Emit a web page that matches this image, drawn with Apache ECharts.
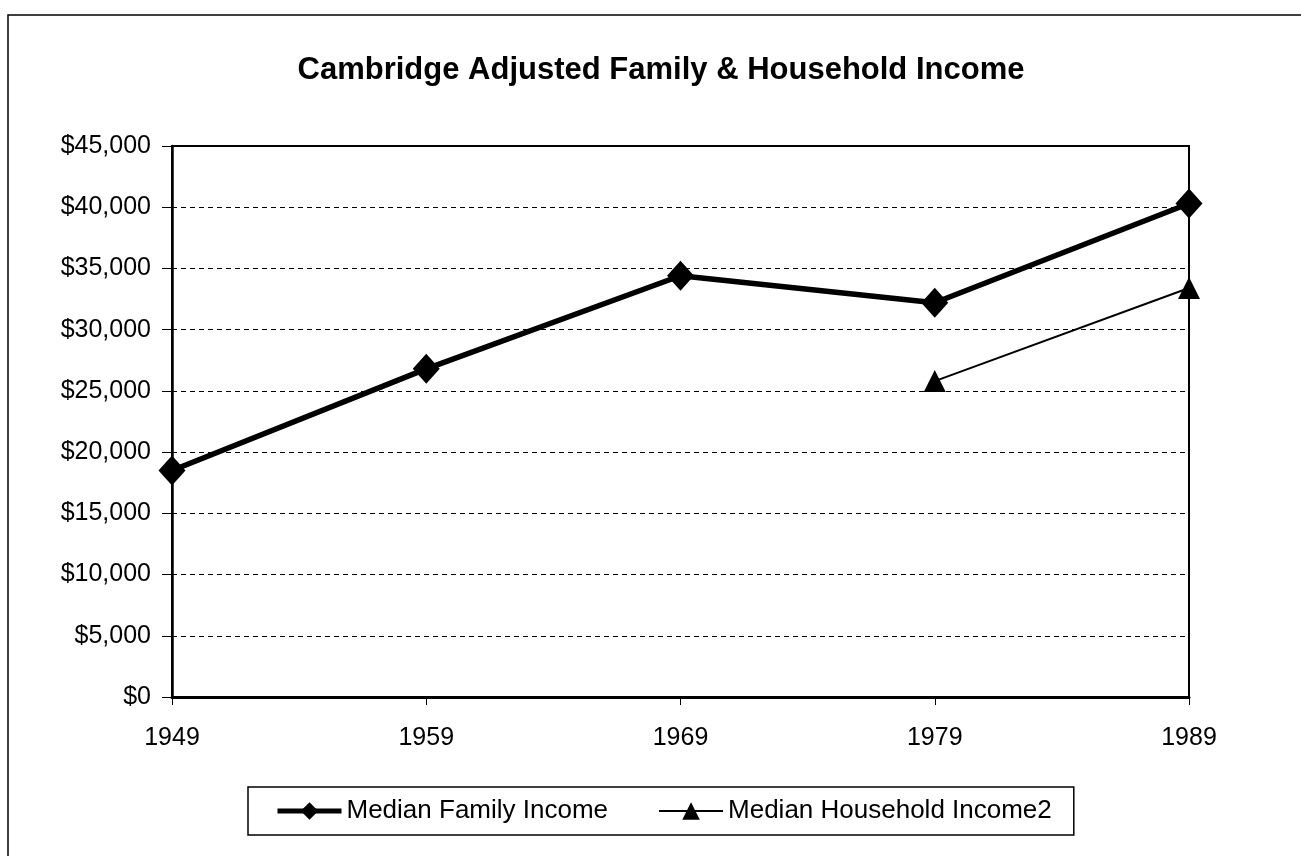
<!DOCTYPE html>
<html>
<head>
<meta charset="utf-8">
<script src="https://cdn.jsdelivr.net/npm/echarts@6/dist/echarts.min.js"></script>
<style>
  html, body { margin: 0; padding: 0; background: #fff; }
  #chart { width: 1301px; height: 856px; }
</style>
</head>
<body>
<div id="chart"></div>
<script>
const years = ['1949', '1959', '1969', '1979', '1989']
const familyIncome = [18500, 26800, 34400, 32200, 40300]
const householdIncome = [null, null, null, 25800, 33400]

const chart = echarts.init(document.getElementById('chart'))

const font = 'Liberation Sans, Arial, sans-serif'

chart.setOption({
  backgroundColor: '#fff',
  animation: false,
  title: {
    text: 'Cambridge Adjusted Family & Household Income',
    left: 656,
    textAlign: 'center',
    top: 50,
    textStyle: { fontFamily: font, fontSize: 31, fontWeight: 'bold', color: '#000' }
  },
  graphic: [
    {
      type: 'rect',
      shape: { x: 8, y: 15, width: 1310, height: 860 },
      style: { fill: 'none', stroke: '#000', lineWidth: 1.5 }
    }
  ],
  legend: {
    top: 787,
    left: 248,
    itemGap: 50,
    itemWidth: 64,
    itemHeight: 22,
    padding: [11, 22, 11, 27],
    borderColor: '#000',
    borderWidth: 1.5,
    textStyle: { fontFamily: font, fontSize: 26, color: '#000' },
    data: [
      { name: 'Median Family Income', lineStyle: { width: 5 } },
      { name: 'Median Household Income2', lineStyle: { width: 2 } }
    ]
  },
  grid: {
    left: 172,
    right: 112,
    top: 146,
    bottom: 159,
    show: true,
    borderColor: '#000',
    borderWidth: 2
  },
  xAxis: {
    type: 'category',
    data: years,
    boundaryGap: false,
    axisLine: { lineStyle: { color: '#000', width: 3 } },
    axisTick: { show: true, length: 8, lineStyle: { color: '#000' } },
    axisLabel: { fontFamily: font, fontSize: 25, color: '#000', margin: 29 },
    splitLine: { show: false }
  },
  yAxis: {
    type: 'value',
    min: 0,
    max: 45000,
    interval: 5000,
    axisLine: { show: true, lineStyle: { color: '#000', width: 2.5 } },
    axisTick: { show: true, length: 10, lineStyle: { color: '#000' } },
    axisLabel: {
      fontFamily: font,
      fontSize: 25,
      color: '#000',
      margin: 21,
      formatter: v => '$' + v.toLocaleString('en-US')
    },
    splitLine: { show: true, lineStyle: { color: '#000', type: [5, 4], width: 1 } }
  },
  series: [
    {
      name: 'Median Family Income',
      type: 'line',
      data: familyIncome,
      symbol: 'diamond',
      symbolSize: [27, 30],
      lineStyle: { color: '#000', width: 5.5 },
      itemStyle: { color: '#000' }
    },
    {
      name: 'Median Household Income2',
      type: 'line',
      data: householdIncome,
      symbol: 'triangle',
      symbolSize: [22, 22],
      lineStyle: { color: '#000', width: 2 },
      itemStyle: { color: '#000' }
    }
  ]
})
</script>
</body>
</html>
